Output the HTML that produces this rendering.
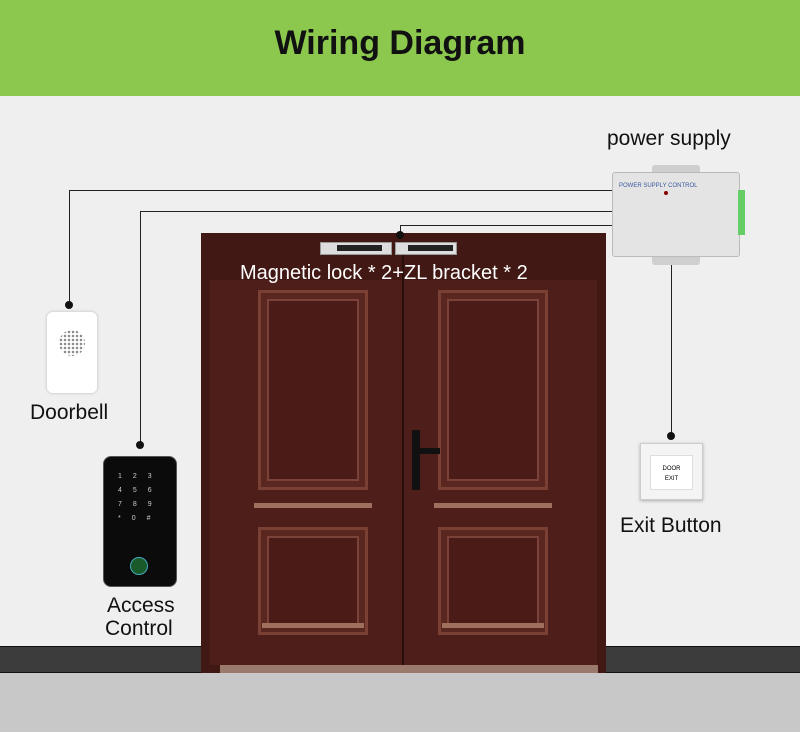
<!DOCTYPE html>
<html><head><meta charset="utf-8"><style>
*{margin:0;padding:0;box-sizing:border-box}
body{width:800px;height:732px;position:relative;overflow:hidden;background:#efefef;font-family:"Liberation Sans",sans-serif}
.a{position:absolute}
.t{position:absolute;font-size:21px;color:#111;white-space:nowrap}
.ln{position:absolute;background:#222}
.dot{position:absolute;width:8px;height:8px;border-radius:50%;background:#111}
.pnl{position:absolute;border:3px solid #7a4034;background:#4a1b17;box-shadow:inset 0 0 0 6px #5a2620,inset 0 0 0 8px #7a4238}
.bar{position:absolute;height:5px;background:#a0705f}
</style></head><body>
<div class="a" style="left:0;top:0;width:800px;height:96px;background:#8cc84e"></div>
<div class="a" style="left:0;top:24px;width:800px;text-align:center;font-size:34px;font-weight:bold;color:#111">Wiring Diagram</div>
<div class="a" style="left:0;top:646px;width:800px;height:27px;background:#3c3c3c;border-top:1px solid #111;border-bottom:1px solid #111"></div>
<div class="a" style="left:0;top:673px;width:800px;height:59px;background:#c8c8c8"></div>

<!-- door -->
<div class="a" style="left:201px;top:233px;width:405px;height:440px;background:#421814"></div>
<div class="a" style="left:210px;top:280px;width:387px;height:385px;background:#4e1e1a"></div>
<div class="a" style="left:402px;top:245px;width:2px;height:420px;background:#2a0e0c"></div>
<div class="a" style="left:220px;top:665px;width:378px;height:8px;background:#9a7a6a"></div>
<div class="pnl" style="left:258px;top:290px;width:110px;height:200px"></div>
<div class="pnl" style="left:258px;top:527px;width:110px;height:108px"></div>
<div class="pnl" style="left:438px;top:290px;width:110px;height:200px"></div>
<div class="pnl" style="left:438px;top:527px;width:110px;height:108px"></div>
<div class="bar" style="left:254px;top:503px;width:118px"></div>
<div class="bar" style="left:434px;top:503px;width:118px"></div>
<div class="bar" style="left:262px;top:623px;width:102px"></div>
<div class="bar" style="left:442px;top:623px;width:102px"></div>
<div class="a" style="left:412px;top:430px;width:8px;height:60px;background:#111"></div>
<div class="a" style="left:420px;top:448px;width:20px;height:6px;background:#111"></div>
<!-- locks -->
<div class="a" style="left:320px;top:242px;width:72px;height:13px;background:#ddd;border:1px solid #999"></div>
<div class="a" style="left:337px;top:245px;width:45px;height:6px;background:#222"></div>
<div class="a" style="left:395px;top:242px;width:62px;height:13px;background:#ddd;border:1px solid #999"></div>
<div class="a" style="left:408px;top:245px;width:45px;height:6px;background:#222"></div>
<div class="a" style="left:240px;top:262px;font-size:20px;color:#fff;white-space:nowrap">Magnetic lock * 2+ZL bracket * 2</div>

<!-- wires -->
<div class="ln" style="left:69px;top:190px;width:543px;height:1px"></div>
<div class="ln" style="left:69px;top:190px;width:1px;height:115px"></div>
<div class="dot" style="left:65px;top:301px"></div>
<div class="ln" style="left:140px;top:211px;width:472px;height:1px"></div>
<div class="ln" style="left:140px;top:211px;width:1px;height:234px"></div>
<div class="dot" style="left:136px;top:441px"></div>
<div class="ln" style="left:400px;top:225px;width:212px;height:1px"></div>
<div class="ln" style="left:400px;top:225px;width:1px;height:10px"></div>
<div class="dot" style="left:396px;top:231px"></div>
<div class="ln" style="left:671px;top:262px;width:1px;height:173px"></div>
<div class="dot" style="left:667px;top:432px"></div>

<!-- power supply -->
<div class="t" style="left:607px;top:127px">power supply</div>
<div class="a" style="left:652px;top:165px;width:48px;height:100px;background:#cfcfcf;border-radius:3px"></div>
<div class="a" style="left:612px;top:172px;width:128px;height:85px;background:#e4e4e4;border:1px solid #bbb;border-radius:3px"></div>
<div class="a" style="left:619px;top:183px;font-size:6px;color:#3a5aa0">POWER SUPPLY CONTROL</div>
<div class="a" style="left:664px;top:191px;width:4px;height:4px;border-radius:50%;background:#800"></div>
<div class="a" style="left:738px;top:190px;width:7px;height:45px;background:#6c6"></div>

<!-- doorbell -->
<div class="a" style="left:47px;top:312px;width:50px;height:81px;background:#fff;border-radius:6px;box-shadow:0 0 3px #bbb"></div>
<div class="a" style="left:59px;top:330px;width:26px;height:26px;border-radius:50%;background:radial-gradient(#888 1px,transparent 1.5px) 0 0/4px 4px"></div>
<div class="t" style="left:30px;top:401px">Doorbell</div>

<!-- access control -->
<div class="a" style="left:103px;top:456px;width:74px;height:131px;background:#0b0b0b;border-radius:8px;border:1px solid #555"></div>
<div class="a" style="left:118px;top:470px;width:48px;font-size:7px;color:#ccc;line-height:14px;letter-spacing:11px">123 456 789 *0#</div>
<div class="a" style="left:130px;top:557px;width:18px;height:18px;border-radius:50%;background:#1a5a2a;border:1px solid #4ab"></div>
<div class="t" style="left:107px;top:594px">Access</div>
<div class="t" style="left:105px;top:617px">Control</div>

<!-- exit button -->
<div class="a" style="left:640px;top:443px;width:63px;height:57px;background:#f4f4f4;border:1px solid #ccc;box-shadow:0 1px 3px #aaa"></div>
<div class="a" style="left:650px;top:455px;width:43px;height:35px;background:#fff;border:1px solid #ddd;font-size:6px;text-align:center;padding-top:8px;line-height:10px">DOOR<br>EXIT</div>
<div class="t" style="left:620px;top:514px">Exit Button</div>
</body></html>
